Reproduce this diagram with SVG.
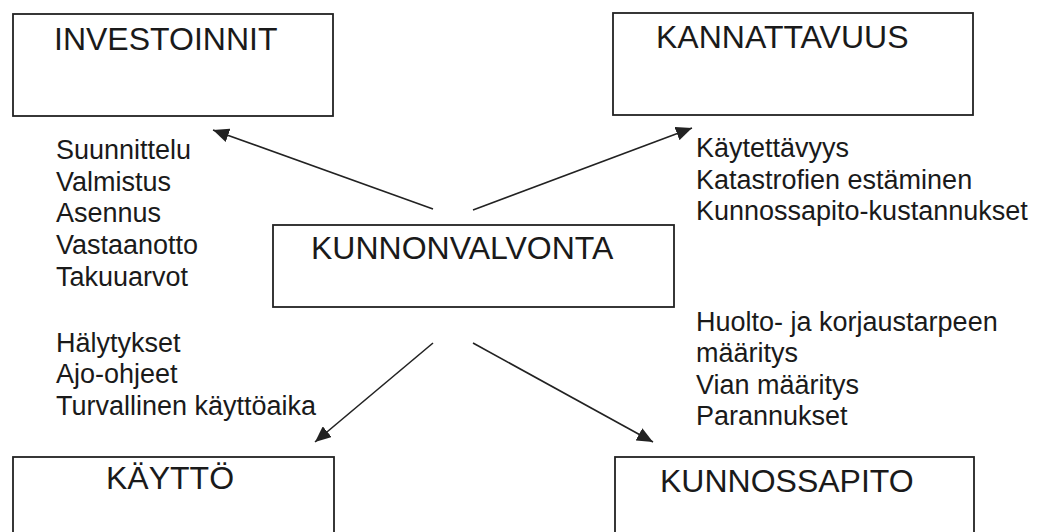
<svg xmlns="http://www.w3.org/2000/svg" width="1047" height="532" viewBox="0 0 1047 532">
  <style>
    .box { fill: #ffffff; stroke: #222222; stroke-width: 1.8; }
    .title { font-family: "Liberation Sans", Arial, sans-serif; font-size: 32px; fill: #1a1a1a; }
    .item { font-family: "Liberation Sans", Arial, sans-serif; font-size: 27px; fill: #1a1a1a; }
    .conn { stroke: #222222; stroke-width: 1.6; fill: none; marker-end: url(#arrow); }
  </style>
  <defs>
    <marker id="arrow" markerUnits="userSpaceOnUse" markerWidth="18" markerHeight="14" refX="16" refY="7" orient="auto">
      <path d="M0,0 L16,7 L0,14 Z" fill="#222222"/>
    </marker>
  </defs>
  <rect width="1047" height="532" fill="#ffffff"/>

  <g id="investoinnit">
    <rect class="box" x="13" y="14" width="320" height="102"/>
    <text class="title" x="54" y="50" font-size="32.5">INVESTOINNIT</text>
  </g>
  <g id="kannattavuus">
    <rect class="box" x="613" y="13" width="360" height="102"/>
    <text class="title" x="656" y="48" font-size="31.7">KANNATTAVUUS</text>
  </g>
  <g id="kunnonvalvonta">
    <rect class="box" x="273" y="225" width="401" height="82"/>
    <text class="title" x="311" y="259">KUNNONVALVONTA</text>
  </g>
  <g id="kaytto">
    <rect class="box" x="13" y="457" width="321" height="90"/>
    <text class="title" x="106" y="489" font-size="32.5">KÄYTTÖ</text>
  </g>
  <g id="kunnossapito">
    <rect class="box" x="615" y="457" width="359" height="90"/>
    <text class="title" x="660" y="492" font-size="29.5">KUNNOSSAPITO</text>
  </g>

  <g id="labels">
    <text class="item" x="56" y="159">
      <tspan x="56" y="159">Suunnittelu</tspan>
      <tspan x="56" y="191">Valmistus</tspan>
      <tspan x="56" y="222">Asennus</tspan>
      <tspan x="56" y="254">Vastaanotto</tspan>
      <tspan x="56" y="286">Takuuarvot</tspan>
    </text>
    <text class="item" x="696" y="157">
      <tspan x="696" y="157">Käytettävyys</tspan>
      <tspan x="696" y="189">Katastrofien estäminen</tspan>
      <tspan x="696" y="220">Kunnossapito-kustannukset</tspan>
    </text>
    <text class="item" x="56" y="352">
      <tspan x="56" y="352">Hälytykset</tspan>
      <tspan x="56" y="383">Ajo-ohjeet</tspan>
      <tspan x="56" y="415">Turvallinen käyttöaika</tspan>
    </text>
    <text class="item" x="696" y="331">
      <tspan x="696" y="331">Huolto- ja korjaustarpeen</tspan>
      <tspan x="696" y="362">määritys</tspan>
      <tspan x="696" y="394">Vian määritys</tspan>
      <tspan x="696" y="425">Parannukset</tspan>
    </text>
  </g>

  <g id="connectors">
    <line class="conn" x1="433" y1="209" x2="213" y2="130"/>
    <line class="conn" x1="473" y1="210" x2="692" y2="128"/>
    <line class="conn" x1="433" y1="343" x2="315" y2="442"/>
    <line class="conn" x1="473" y1="343" x2="653" y2="442"/>
  </g>
</svg>
